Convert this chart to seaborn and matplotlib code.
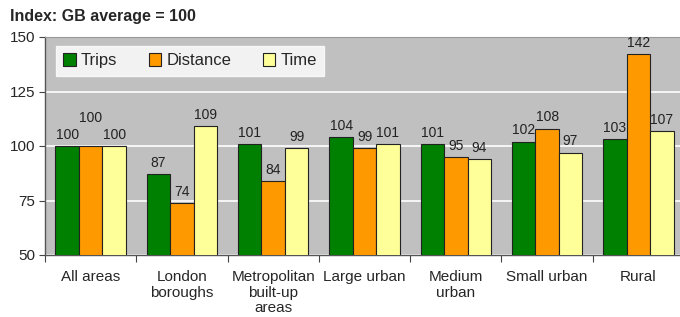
import matplotlib
matplotlib.use("Agg")
import matplotlib.pyplot as plt
import pandas as pd
import seaborn as sns
from matplotlib.ticker import FixedLocator

areas = ["All areas", "London\nboroughs", "Metropolitan\nbuilt-up\nareas", "Large urban",
         "Medium\nurban", "Small urban", "Rural"]
trips = [100, 87, 101, 104, 101, 102, 103]
distance = [100, 74, 84, 99, 95, 108, 142]
time = [100, 109, 99, 101, 94, 97, 107]
measures = ["Trips", "Distance", "Time"]
colours = ["#008000", "#FF9900", "#FFFF99"]

df = pd.DataFrame({"area": areas * 3,
                   "measure": [m for m in measures for _ in areas],
                   "value": trips + distance + time})

sns.set_style("white")
plt.rcParams["font.family"] = ["Liberation Sans", "DejaVu Sans"]

fig = plt.figure(figsize=(6.8, 3.17), dpi=100)
ax = fig.add_axes([45 / 680, 62 / 317, 639 / 680, 218 / 317])
ax.set_facecolor("#C0C0C0")

sns.barplot(data=df, x="area", y="value", hue="measure", hue_order=measures,
            palette=colours, width=0.77, gap=0, edgecolor="#222222", linewidth=0.8,
            saturation=1, ax=ax, zorder=3)

ax.set_ylim(50, 150)
ax.set_yticks([50, 75, 100, 125, 150])
ax.yaxis.grid(True, color="white", linewidth=1.2, zorder=0)
ax.set_axisbelow(True)
ax.set_xlim(-0.5, 6.5)
ax.set_xlabel("")
ax.set_ylabel("")

ax.tick_params(axis="y", length=4, width=0.8, color="#444444", labelsize=11, pad=3,
               direction="out", left=True)
ax.tick_params(axis="x", which="major", length=0, labelsize=11, pad=11)
for lbl in ax.get_xticklabels():
    lbl.set_linespacing(1.12)
ax.xaxis.set_minor_locator(FixedLocator([i - 0.5 for i in range(len(areas) + 1)]))
ax.tick_params(axis="x", which="minor", length=5, width=0.8, color="#444444",
               direction="out", bottom=True)

for side in ["left", "bottom"]:
    ax.spines[side].set_color("#555555")
    ax.spines[side].set_linewidth(1)
ax.spines["top"].set_color("#999999")
ax.spines["right"].set_visible(False)

for container in ax.containers:
    ax.bar_label(container, fmt="%d", padding=3, fontsize=10, color="#222222")

# the distance label for "All areas" sits a bit higher in the original
ax.texts[7].xyann = (0, 15)

leg = ax.legend(loc="upper left", bbox_to_anchor=(0.017, 0.96), borderaxespad=0, ncol=3,
                frameon=True, fontsize=12, handlelength=0.75, handleheight=0.75,
                handletextpad=0.3, columnspacing=1.9, borderpad=0.45, fancybox=False)
leg.get_frame().set_facecolor("white")
leg.get_frame().set_edgecolor("white")
for h in leg.legend_handles:
    h.set_edgecolor("#222222")
    h.set_linewidth(0.8)

fig.text(10 / 680, 1 - 17 / 317, "Index: GB average = 100", fontsize=11.5, fontweight="bold",
         va="center", ha="left")

fig.savefig("out.png", dpi=100)
